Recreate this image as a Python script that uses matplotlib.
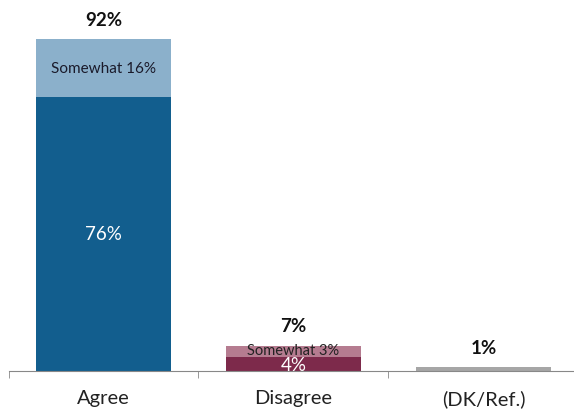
import matplotlib.pyplot as plt
import numpy as np

plt.rcParams['font.family'] = ['Lato', 'DejaVu Sans']

categories = ['Agree', 'Disagree', '(DK/Ref.)']
strong = [76, 4, 1]
somewhat = [16, 3, 0]
totals = [92, 7, 1]

dark_colors = ['#125E8E', '#7D2A4B', '#A6A6A6']
light_colors = ['#8BB0CB', '#B57C90', '#A6A6A6']

fig = plt.figure(figsize=(5.74, 4.10), dpi=100)
ax = fig.add_axes([8.5 / 574, 38 / 410, 570 / 574, 361 / 410])

x = np.arange(len(categories))
w = 0.71
ax.bar(x, strong, width=w, color=dark_colors)
ax.bar(x, somewhat, width=w, bottom=strong, color=light_colors)

ax.set_xlim(-0.5, 2.5)
ax.set_ylim(0, 100)

# totals above the bars
for i, t in enumerate(totals):
    ax.text(x[i], t + 5.5, f'{t}%', ha='center', va='center',
            fontsize=13.5, fontweight='bold', color='#111111')

# Agree segments
ax.text(x[0], strong[0] / 2, f'{strong[0]}%', ha='center', va='center',
        fontsize=13.5, color='white')
ax.text(x[0], strong[0] + somewhat[0] / 2, f'Somewhat {somewhat[0]}%',
        ha='center', va='center', fontsize=11, color='#1a1a2a')

# Disagree segments
ax.text(x[1], strong[1] + 1.7, f'Somewhat {somewhat[1]}%',
        ha='center', va='center', fontsize=10.5, color='#222222')
ax.text(x[1], 1.8, f'{strong[1]}%', ha='center', va='center',
        fontsize=13.5, color='white')

ax.set_xticks(x)
ax.set_xticklabels(categories, fontsize=14.5, color='#222222')
ax.tick_params(axis='x', length=0, pad=13)
ax.set_xticks([-0.5, 0.5, 1.5, 2.5], minor=True)
ax.tick_params(axis='x', which='minor', length=5, color='#888888')
ax.set_yticks([])
for s in ['top', 'right', 'left']:
    ax.spines[s].set_visible(False)
ax.spines['bottom'].set_color('#888888')

fig.savefig('out.png', dpi=100)
